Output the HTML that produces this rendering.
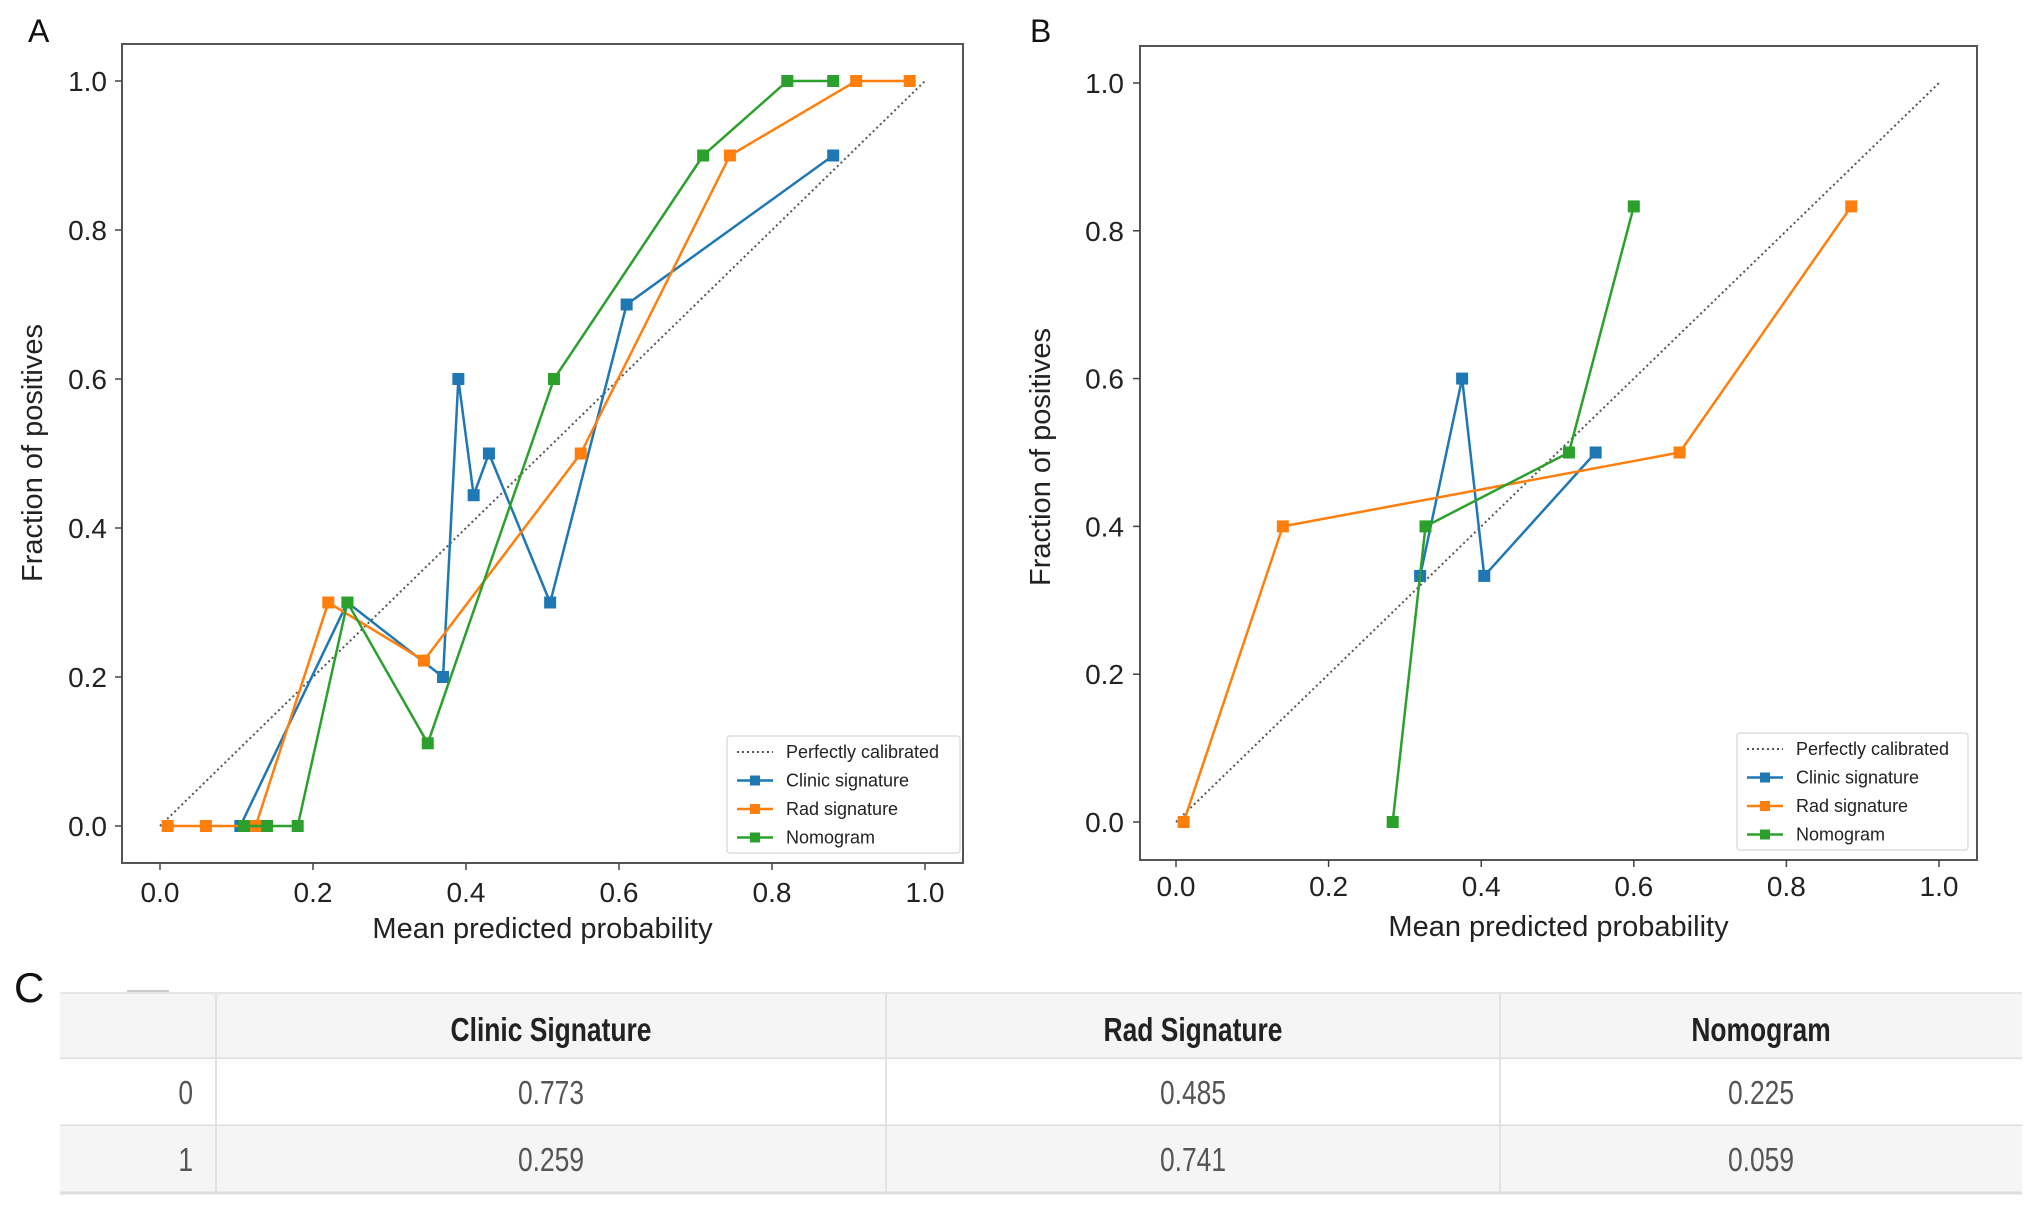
<!DOCTYPE html>
<html><head><meta charset="utf-8"><style>
html,body{margin:0;padding:0;background:#fff;}
body{width:2031px;height:1214px;position:relative;overflow:hidden;font-family:"Liberation Sans",sans-serif;}
svg{position:absolute;left:0;top:0;}
</style></head><body>
<svg id="chart" width="2031" height="1214" xmlns="http://www.w3.org/2000/svg"></svg>
<script>
// Panel A data
const aClinicX=[0.105,0.245,0.37,0.39,0.41,0.43,0.51,0.61,0.88];
const aClinicY=[0,0.3,0.2,0.6,0.444,0.5,0.3,0.7,0.9];
const aRadX=[0.01,0.06,0.125,0.22,0.345,0.55,0.745,0.91,0.98];
const aRadY=[0,0,0,0.3,0.222,0.5,0.9,1.0,1.0];
const aNomoX=[0.11,0.14,0.18,0.245,0.35,0.515,0.71,0.82,0.88];
const aNomoY=[0,0,0,0.3,0.111,0.6,0.9,1.0,1.0];
// Panel B data
const bClinicX=[0.32,0.375,0.404,0.55];
const bClinicY=[0.333,0.6,0.333,0.5];
const bRadX=[0.01,0.14,0.66,0.885];
const bRadY=[0,0.4,0.5,0.833];
const bNomoX=[0.284,0.327,0.515,0.6];
const bNomoY=[0,0.4,0.5,0.833];
const tickVals=[0,0.2,0.4,0.6,0.8,1.0];
const tickLabels=["0.0","0.2","0.4","0.6","0.8","1.0"];
const legendLabels=["Perfectly calibrated","Clinic signature","Rad signature","Nomogram"];
// Table data
const tableCols=["Clinic Signature","Rad Signature","Nomogram"];
const tableRows=["0","1"];
const tableVals=[["0.773","0.485","0.225"],["0.259","0.741","0.059"]];

const NS="http://www.w3.org/2000/svg";
const svg=document.getElementById('chart');
function mk(tag,attrs,parent,text){const e=document.createElementNS(NS,tag);for(const k in attrs)e.setAttribute(k,attrs[k]);if(text!==undefined)e.textContent=text;(parent||svg).appendChild(e);return e;}
const C={clinic:"#1f77b4",rad:"#ff7f0e",nomo:"#2ca02c"};

function panel(p){
  const g=mk('g',{});
  
  
  const sx=v=>p.x0+(p.x1-p.x0)*v, sy=v=>p.y0+(p.y1-p.y0)*v;
  const fr=mk('rect',{x:p.fl,y:p.ft,width:p.fr-p.fl,height:p.fb-p.ft,fill:'none',stroke:'#555','stroke-width':2},g);
  
  tickVals.forEach((v,i)=>{
    mk('line',{x1:sx(v),x2:sx(v),y1:p.fb,y2:p.fb+7,stroke:'#444','stroke-width':1.5},g);
    const t=mk('text',{x:sx(v),y:p.xt,'font-size':28,'text-anchor':'middle',fill:'#222'},g,tickLabels[i]);
    
    mk('line',{x1:p.fl-7,x2:p.fl,y1:sy(v),y2:sy(v),stroke:'#444','stroke-width':1.5},g);
    const u=mk('text',{x:p.yt,y:sy(v)+10,'font-size':28,'text-anchor':'end',fill:'#222'},g,tickLabels[i]);
    
  });
  const xl=mk('text',{x:(p.fl+p.fr)/2,y:p.xl,'font-size':29,'text-anchor':'middle',fill:'#222'},g,'Mean predicted probability');
  
  const yl=mk('text',{x:0,y:0,'font-size':29,'text-anchor':'middle',fill:'#222',transform:`translate(${p.ylx},${p.yly}) rotate(-90)`},g,'Fraction of positives');
  
  const L=mk('text',{x:p.lx,y:p.ly,'font-size':32,fill:'#111'},g,p.letter);
  
  const d=mk('line',{x1:sx(0),y1:sy(0),x2:sx(1),y2:sy(1),stroke:'#555','stroke-width':2,'stroke-dasharray':'2,3'},g);
  
  p.series.forEach(s=>{
    const pts=s.xs.map((x,i)=>sx(x)+','+sy(s.ys[i])).join(' ');
    const pl=mk('polyline',{points:pts,fill:'none',stroke:s.c,'stroke-width':2.5},g);
    
    s.xs.forEach((x,i)=>{
      const m=mk('rect',{x:sx(x)-6,y:sy(s.ys[i])-6,width:12,height:12,fill:s.c},g);
      
    });
  });
  const lg=mk('g',{},g);
  
  mk('rect',{x:p.lgx,y:p.lgy,width:p.lgw,height:p.lgh,fill:'#fff',stroke:'#ddd','stroke-width':1.5,rx:3},lg);
  const cols=[null,C.clinic,C.rad,C.nomo];
  legendLabels.forEach((lab,i)=>{
    const y=p.lgy+16+i*28.5;
    const e=mk('g',{},lg);
    
    if(i===0) mk('line',{x1:p.lgx+10,x2:p.lgx+46,y1:y,y2:y,stroke:'#555','stroke-width':2,'stroke-dasharray':'2,3'},e);
    else {mk('line',{x1:p.lgx+10,x2:p.lgx+46,y1:y,y2:y,stroke:cols[i],'stroke-width':2.5},e);mk('rect',{x:p.lgx+23,y:y-5,width:10,height:10,fill:cols[i]},e);}
    mk('text',{x:p.lgx+59,y:y+6,'font-size':18,fill:'#222'},e,lab);
  });
}
panel({name:'panel-a',letter:'A',lx:28,ly:42,fl:122,fr:963,ft:44,fb:863,x0:160,x1:925,y0:826,y1:81,xt:902,yt:107,xl:938,ylx:42,yly:453,
  lgx:727,lgy:736,lgw:233,lgh:117,
  series:[{n:'clinic',c:C.clinic,xs:aClinicX,ys:aClinicY},{n:'rad',c:C.rad,xs:aRadX,ys:aRadY},{n:'nomogram',c:C.nomo,xs:aNomoX,ys:aNomoY}]});
panel({name:'panel-b',letter:'B',lx:1030,ly:42,fl:1140,fr:1977,ft:46,fb:860,x0:1176,x1:1939,y0:822,y1:83,xt:896,yt:1124,xl:936,ylx:1050,yly:457,
  lgx:1737,lgy:733,lgw:231,lgh:117,
  series:[{n:'clinic',c:C.clinic,xs:bClinicX,ys:bClinicY},{n:'rad',c:C.rad,xs:bRadX,ys:bRadY},{n:'nomogram',c:C.nomo,xs:bNomoX,ys:bNomoY}]});

// Table C
const tg=mk('g',{});

const cl=mk('text',{x:14,y:1002,'font-size':42,fill:'#111'},tg,'C');

mk('rect',{x:127,y:990,width:42,height:4,fill:'#ccc'},tg);
const colX=[60,216,886,1500,2022];
const rowY=[993,1059,1126,1193];
const fills=['#f5f5f5','#fff','#f5f5f5'];
for(let r=0;r<3;r++){
  mk('rect',{x:60,y:rowY[r],width:1962,height:rowY[r+1]-rowY[r],fill:fills[r]},tg);
  mk('line',{x1:60,x2:2022,y1:rowY[r+1],y2:rowY[r+1],stroke:'#ddd','stroke-width':3},tg);
}
mk('line',{x1:60,x2:2022,y1:993,y2:993,stroke:'#e6e6e6','stroke-width':2},tg);
for(let c=1;c<4;c++) mk('line',{x1:colX[c],x2:colX[c],y1:993,y2:1193,stroke:'#e2e2e2','stroke-width':2},tg);
function ctext(x,y,s,bold,anchor){
  const t=mk('text',{x:0,y:0,'font-size':33,'font-weight':bold?'bold':'normal','text-anchor':anchor||'middle',fill:bold?'#222':'#555',transform:`translate(${x},${y}) scale(0.8,1)`},tg,s);
  return t;
}
tableCols.forEach((h,i)=>{const t=ctext((colX[i+1]+colX[i+2])/2,1041,h,true);});
tableRows.forEach((r,ri)=>{
  const y=rowY[ri+1]+45;
  const t=ctext(193,y,r,false,'end');
  tableVals[ri].forEach((v,ci)=>{const c=ctext((colX[ci+1]+colX[ci+2])/2,y,v,false);});
});
</script>
</body></html>
